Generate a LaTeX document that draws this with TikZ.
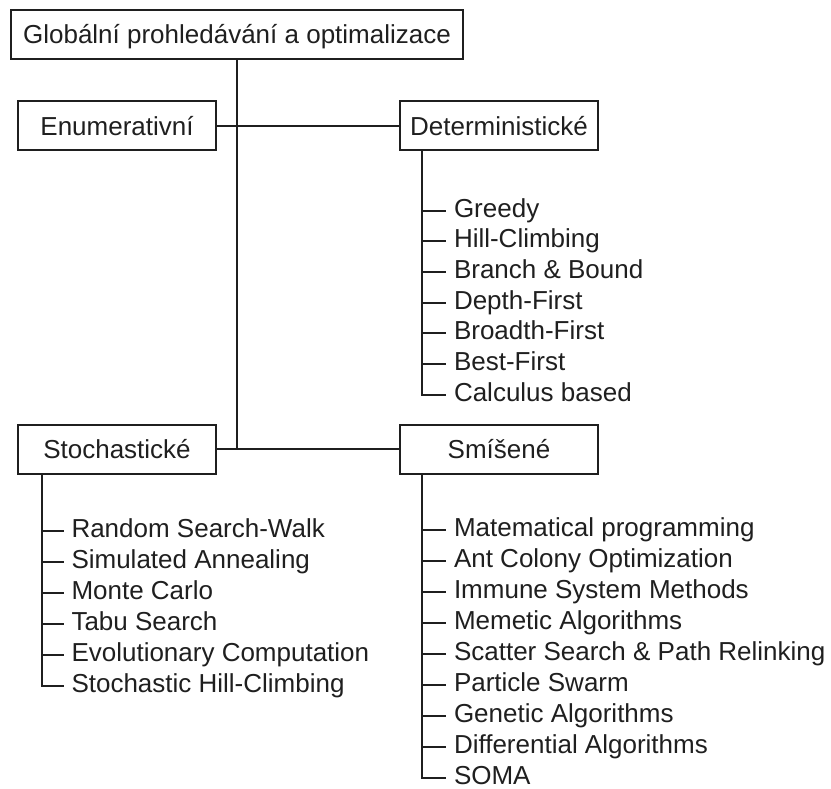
\documentclass[tikz,border=0pt]{standalone}
\usepackage{fontspec}
\setmainfont{Liberation Sans}
\begin{document}
\begin{tikzpicture}[x=1pt,y=-1pt,
  line width=2pt, draw=black!88,
  every node/.style={font=\fontsize{26}{30}\selectfont, text=black!88},
  catbox/.style={draw, line width=2pt, minimum width=198pt, minimum height=49pt,
    inner sep=0pt, text height=18.7pt, text depth=0pt},
  rootbox/.style={catbox, minimum width=452pt},
  item/.style={anchor=base west, inner xsep=7pt, inner ysep=0pt,
    text height=18.7pt, text depth=0pt}]
\useasboundingbox (0,0) rectangle (831,789);

% category boxes
\node[rootbox] (root) at (237,34.5) {Globální prohledávání a optimalizace};
\node[catbox] (enum) at (117,126) {Enumerativní};
\node[catbox] (det) at (499,126) {Deterministické};
\node[catbox] (stoch) at (117,449) {Stochastické};
\node[catbox] (smis) at (499,449) {Smíšené};

% main trunk and branches
\coordinate (split) at (root.south |- stoch.east);
\draw (root.south) -- (split);
\draw (enum.east) -- (det.west);
\draw (stoch.east) -- (smis.west);

% list entries hang 6.5pt below the tick that points at them
\def\tickpt#1{([yshift=6.5pt]#1.base west)}

% deterministic methods
\coordinate (dtop) at ([xshift=23pt]det.south west);
\foreach \n/\y/\t in {d1/211/Greedy, d2/241/Hill-Climbing, d3/272/Branch \& Bound,
    d4/303/Depth-First, d5/333/Broadth-First, d6/364/Best-First, d7/395/Calculus based}
  \node[item] (\n) at (446,\y+6.5) {\t};
\draw (dtop) |- \tickpt{d7};
\foreach \n in {d1,d2,d3,d4,d5,d6}
  \draw (dtop |- \n.base west) ++(0,-6.5) -- \tickpt{\n};

% stochastic methods
\coordinate (stop) at ([xshift=25pt]stoch.south west);
\foreach \n/\y/\t in {s1/531/Random Search-Walk, s2/562/Simulated Annealing,
    s3/593/Monte Carlo, s4/624/Tabu Search, s5/655/Evolutionary Computation,
    s6/686/Stochastic Hill-Climbing}
  \node[item] (\n) at (63.5,\y+6.5) {\t};
\draw (stop) |- \tickpt{s6};
\foreach \n in {s1,s2,s3,s4,s5}
  \draw (stop |- \n.base west) ++(0,-6.5) -- \tickpt{\n};

% mixed methods
\coordinate (mtop) at ([xshift=23pt]smis.south west);
\foreach \n/\y/\t in {m1/530/Matematical programming, m2/561/Ant Colony Optimization,
    m3/592/Immune System Methods, m4/623/Memetic Algorithms,
    m5/654/Scatter Search \& Path Relinking, m6/685/Particle Swarm,
    m7/716/Genetic Algorithms, m8/747/Differential Algorithms, m9/778/SOMA}
  \node[item] (\n) at (446,\y+6.5) {\t};
\draw (mtop) |- \tickpt{m9};
\foreach \n in {m1,m2,m3,m4,m5,m6,m7,m8}
  \draw (mtop |- \n.base west) ++(0,-6.5) -- \tickpt{\n};
\end{tikzpicture}
\end{document}
